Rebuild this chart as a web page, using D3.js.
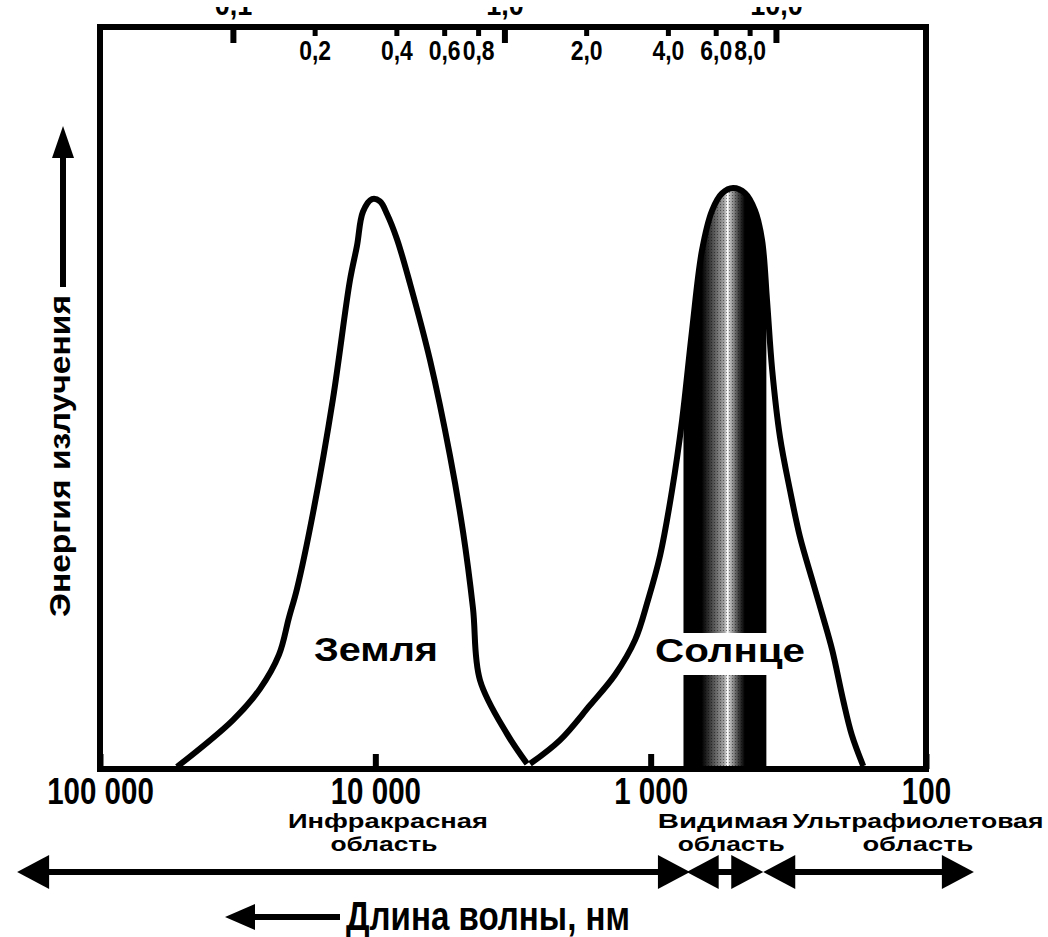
<!DOCTYPE html>
<html>
<head>
<meta charset="utf-8">
<script src="https://cdn.jsdelivr.net/npm/d3@7"></script>
<style>
  body { margin: 0; background: #fff; }
  svg { display: block; }
  .heavy { font-family: "Liberation Sans", Arial, sans-serif; font-weight: bold; }
</style>
</head>
<body>
<div class="chart"></div>
<script>
// wavelength axis (nm), decreasing to the right
const wlDomain = [100000, 100];
const wlTicks = [100000, 10000, 1000, 100];
const wlTickLabels = ['100 000', '10 000', '1 000', '100'];

// upper scale
const topDomain = [0.0324, 35.7];
const topMajor = [0.1, 1, 10];
const topMajorLabels = ['0,1', '1,0', '10,0'];
const topMinor = [0.2, 0.4, 0.6, 0.8, 2, 4, 6, 8];
const topMinorLabels = ['0,2', '0,4', '0,6', '0,8', '2,0', '4,0', '6,0', '8,0'];

// Earth curve: wavelength (nm) / relative energy
const earthWl = [52500, 32900, 26240, 22380, 20590, 19250, 16840, 14250, 12360, 11660, 11090, 10280, 9616, 9070, 8343, 7480, 6330, 5355, 4800, 4420, 4170, 3320, 2810];
const earthE  = [0.003, 0.066, 0.108, 0.154, 0.204, 0.243, 0.345, 0.499, 0.659, 0.705, 0.751, 0.768, 0.765, 0.748, 0.714, 0.654, 0.551, 0.422, 0.319, 0.217, 0.12, 0.047, 0.007];

// Sun curve
const sunWl = [2742, 2134, 1660, 1347, 1139, 1022, 924, 836, 769, 707, 651, 598, 550, 502, 454, 418, 394, 378, 362, 339, 312, 287, 259, 238, 219, 200, 186, 169];
const sunE  = [0.007, 0.039, 0.086, 0.127, 0.174, 0.228, 0.288, 0.376, 0.470, 0.592, 0.699, 0.753, 0.776, 0.783, 0.776, 0.753, 0.713, 0.632, 0.538, 0.447, 0.376, 0.313, 0.255, 0.208, 0.160, 0.093, 0.046, 0.004];

// visible band (nm)
const visibleBand = [760, 380];

// spectral regions, arrows below the axis
const regionNames = [['Инфракрасная', 'область'], ['Видимая', 'область'], ['Ультрафиолетовая', 'область']];
const regionFrom = [200000, 740, 390];
const regionTo = [720, 390, 67];
const regionLine1At = [9000, 545, 107];
const regionLine2At = [9300, 510, 107];

const width = 1048, height = 937;
const frame = {left: 100, right: 926, top: 27, bottom: 769};

const svg = d3.select('.chart').append('svg')
  .attr('width', width).attr('height', height);

const x = d3.scaleLog().domain(wlDomain).range([frame.left, frame.right]);
const xTop = d3.scaleLog().domain(topDomain).range([frame.left, frame.right]);
const y = d3.scaleLinear().domain([0, 1]).range([frame.bottom, frame.top]);

const toPoints = (wl, e) => wl.map((d, i) => ({wl: d, e: e[i]}));
const earth = toPoints(earthWl, earthE);
const sun = toPoints(sunWl, sunE);

// squeeze text horizontally, the original uses a narrow face
function condense(sel, k) {
  sel.each(function () {
    const w = this.getComputedTextLength();
    d3.select(this).attr('textLength', w * k).attr('lengthAdjust', 'spacingAndGlyphs');
  });
}

const defs = svg.append('defs');

// gradient for the visible band: black with a light stripe
const grad = defs.append('linearGradient').attr('id', 'visGrad')
  .attr('gradientUnits', 'userSpaceOnUse')
  .attr('x1', x(visibleBand[0])).attr('x2', x(visibleBand[1]))
  .attr('y1', 0).attr('y2', 0);
[[0, '#000'], [0.22, '#000'], [0.32, '#3a3a3a'], [0.5, '#a8a8a8'], [0.53, '#fff'], [0.56, '#bbb'], [0.66, '#444'], [0.74, '#000'], [1, '#000']]
  .forEach(s => grad.append('stop').attr('offset', s[0]).attr('stop-color', s[1]));

defs.append('clipPath').attr('id', 'visClip')
  .append('rect')
  .attr('x', x(visibleBand[0])).attr('y', 0)
  .attr('width', x(visibleBand[1]) - x(visibleBand[0]))
  .attr('height', frame.bottom);

// stipple texture over the light stripe
const pat = defs.append('pattern').attr('id', 'stipple')
  .attr('patternUnits', 'userSpaceOnUse').attr('width', 3).attr('height', 3);
pat.append('rect').attr('width', 1).attr('height', 1).attr('fill', '#000').attr('opacity', 0.45);

const area = d3.area()
  .x(d => x(d.wl)).y0(y(0)).y1(d => y(d.e))
  .curve(d3.curveCatmullRom.alpha(0.5));

svg.append('path').datum(sun)
  .attr('d', area)
  .attr('fill', 'url(#visGrad)')
  .attr('clip-path', 'url(#visClip)');
svg.append('path').datum(sun)
  .attr('d', area)
  .attr('fill', 'url(#stipple)')
  .attr('clip-path', 'url(#visClip)');

// labels inside the plot
const sunLabel = svg.append('text').attr('class', 'heavy')
  .attr('x', 730).attr('y', 662)
  .attr('text-anchor', 'middle')
  .attr('font-size', 34)
  .attr('textLength', 150).attr('lengthAdjust', 'spacingAndGlyphs')
  .text('Солнце');
const bb = sunLabel.node().getBBox();
svg.insert('rect', 'text')
  .attr('x', bb.x - 4).attr('y', bb.y + 2)
  .attr('width', bb.width + 8).attr('height', bb.height + 4)
  .attr('fill', '#fff');

svg.append('text').attr('class', 'heavy')
  .attr('x', 376).attr('y', 661)
  .attr('text-anchor', 'middle')
  .attr('font-size', 34)
  .attr('textLength', 124).attr('lengthAdjust', 'spacingAndGlyphs')
  .text('Земля');

// curves
const line = d3.line()
  .x(d => x(d.wl)).y(d => y(d.e))
  .curve(d3.curveCatmullRom.alpha(0.5));

[earth, sun].forEach(data => {
  svg.append('path').datum(data)
    .attr('d', line)
    .attr('fill', 'none')
    .attr('stroke', '#000')
    .attr('stroke-width', 6)
    .attr('stroke-linejoin', 'round');
});

// frame
svg.append('rect')
  .attr('x', frame.left).attr('y', frame.top)
  .attr('width', frame.right - frame.left)
  .attr('height', frame.bottom - frame.top)
  .attr('fill', 'none').attr('stroke', '#000').attr('stroke-width', 6);

// bottom axis
const xAxis = d3.axisBottom(x)
  .tickValues(wlTicks)
  .tickFormat((d, i) => wlTickLabels[i])
  .tickSizeInner(-15).tickSizeOuter(0);
const xAxisDraw = svg.append('g')
  .attr('transform', `translate(0,${frame.bottom})`)
  .call(xAxis);
xAxisDraw.select('.domain').remove();
xAxisDraw.selectAll('line').attr('stroke', '#000').attr('stroke-width', 6);
xAxisDraw.selectAll('text')
  .attr('class', 'heavy')
  .attr('font-family', null)
  .attr('y', 35).attr('dy', null)
  .attr('font-size', 36)
  .attr('fill', '#000')
  .call(condense, 0.82);

// top axis, minor ticks with labels inside the frame
const topAxisMinor = d3.axisTop(xTop)
  .tickValues(topMinor)
  .tickFormat((d, i) => topMinorLabels[i])
  .tickSizeInner(-9).tickSizeOuter(0);
const topMinorDraw = svg.append('g')
  .attr('transform', `translate(0,${frame.top})`)
  .call(topAxisMinor);
topMinorDraw.select('.domain').remove();
topMinorDraw.selectAll('line').attr('stroke', '#000').attr('stroke-width', 5);
topMinorDraw.selectAll('text')
  .attr('class', 'heavy')
  .attr('y', 33).attr('dy', null)
  .attr('font-size', 27)
  .attr('fill', '#000')
  .call(condense, 0.85);

// top axis, major ticks; labels cut off by the page edge
defs.append('clipPath').attr('id', 'topCut')
  .append('rect').attr('x', 0).attr('y', 7).attr('width', width).attr('height', 40);
const topAxisMajor = d3.axisTop(xTop)
  .tickValues(topMajor)
  .tickFormat((d, i) => topMajorLabels[i])
  .tickSizeInner(-16).tickSizeOuter(0);
const topMajorDraw = svg.append('g')
  .attr('clip-path', 'url(#topCut)')
  .append('g')
  .attr('transform', `translate(0,${frame.top})`)
  .call(topAxisMajor);
topMajorDraw.select('.domain').remove();
topMajorDraw.selectAll('line').attr('stroke', '#000').attr('stroke-width', 6);
topMajorDraw.selectAll('text')
  .attr('class', 'heavy')
  .attr('y', -12).attr('dy', null)
  .attr('font-size', 30)
  .attr('fill', '#000')
  .call(condense, 0.9);

// y label with arrow
svg.append('text').attr('class', 'heavy')
  .attr('transform', 'translate(70,617) rotate(-90)')
  .attr('font-size', 29)
  .attr('textLength', 322).attr('lengthAdjust', 'spacingAndGlyphs')
  .text('Энергия излучения');

function arrow(g, x1, y1, x2, y2, headLen, headHalf, both) {
  const ang = Math.atan2(y2 - y1, x2 - x1);
  const ux = Math.cos(ang), uy = Math.sin(ang);
  const head = (tx, ty, dx, dy) => {
    const bx = tx - dx * headLen, by = ty - dy * headLen;
    return `M${tx},${ty}L${bx - dy * headHalf},${by + dx * headHalf}L${bx + dy * headHalf},${by - dx * headHalf}Z`;
  };
  const sx = both ? x1 + ux * headLen * 0.8 : x1;
  const sy = both ? y1 + uy * headLen * 0.8 : y1;
  g.append('line')
    .attr('x1', sx).attr('y1', sy)
    .attr('x2', x2 - ux * headLen * 0.8).attr('y2', y2 - uy * headLen * 0.8)
    .attr('stroke', '#000').attr('stroke-width', 6);
  g.append('path').attr('d', head(x2, y2, ux, uy)).attr('fill', '#000');
  if (both) g.append('path').attr('d', head(x1, y1, -ux, -uy)).attr('fill', '#000');
}

const annot = svg.append('g');
arrow(annot, 63, 287, 63, 126, 32, 11, false);

// region arrows and names
const arrowY = 872;
const lineWidths = [[200, 107], [131, 107], [251, 111]];
regionNames.forEach((names, i) => {
  arrow(annot, x(regionFrom[i]), arrowY, x(regionTo[i]), arrowY, 32, 17, true);
  names.forEach((t, j) => {
    svg.append('text').attr('class', 'heavy')
      .attr('x', x(j === 0 ? regionLine1At[i] : regionLine2At[i]))
      .attr('y', 828 + j * 23)
      .attr('text-anchor', 'middle')
      .attr('font-size', 21)
      .attr('textLength', lineWidths[i][j]).attr('lengthAdjust', 'spacingAndGlyphs')
      .text(t);
  });
});

// x label with arrow
arrow(annot, 340, 917, 225, 917, 30, 13, false);
svg.append('text').attr('class', 'heavy')
  .attr('x', 346).attr('y', 930)
  .attr('font-size', 40)
  .attr('textLength', 284).attr('lengthAdjust', 'spacingAndGlyphs')
  .text('Длина волны, нм');
</script>
</body>
</html>
